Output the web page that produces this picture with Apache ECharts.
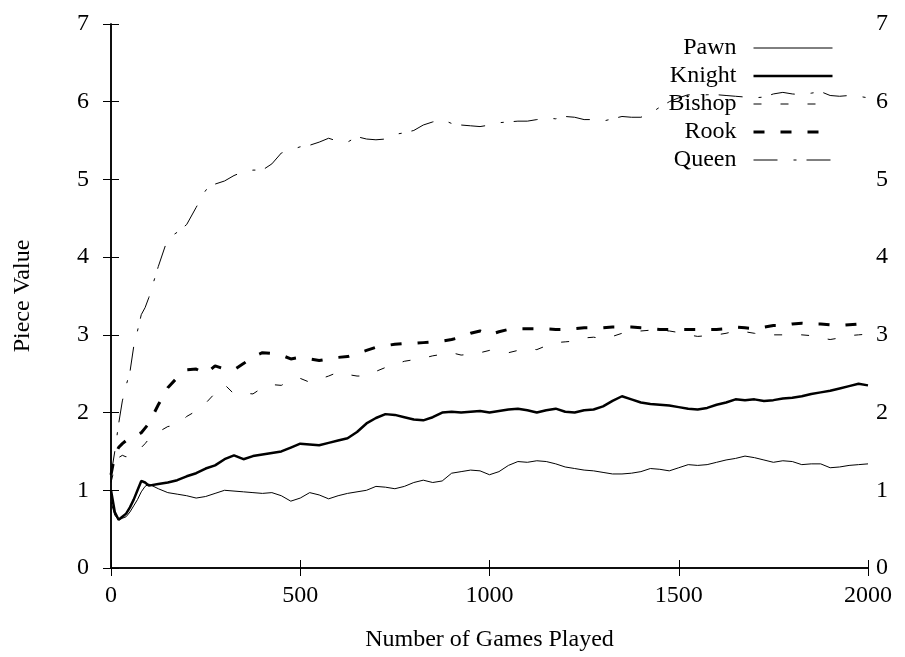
<!DOCTYPE html>
<html>
<head>
<meta charset="utf-8">
<script src="https://cdn.jsdelivr.net/npm/echarts@6/dist/echarts.min.js"></script>
<style>
  html, body { margin: 0; padding: 0; background: #fff; }
  #main { width: 905px; height: 657px; }
</style>
</head>
<body>
<div id="main"></div>
<script>
// games played (x)
var games = [
  0, 10, 20, 30, 40, 50, 60, 70, 80, 90, 100,
  125, 150, 175, 200, 225, 250, 275, 300,
  325, 350, 375, 400, 425, 450, 475, 500,
  525, 550, 575, 600, 625, 650, 675, 700,
  725, 750, 775, 800, 825, 850, 875, 900,
  925, 950, 975, 1000, 1025, 1050, 1075, 1100,
  1125, 1150, 1175, 1200, 1225, 1250, 1275, 1300,
  1325, 1350, 1375, 1400, 1425, 1450, 1475, 1500,
  1525, 1550, 1575, 1600, 1625, 1650, 1675, 1700,
  1725, 1750, 1775, 1800, 1825, 1850, 1875, 1900,
  1925, 1950, 1975, 2000
];

var pawn = [
  0.85, 0.68, 0.62, 0.64, 0.66, 0.72, 0.80, 0.88, 0.98, 1.05, 1.08,
  1.02, 0.97, 0.95, 0.93, 0.90, 0.92, 0.96, 1.00,
  0.99, 0.98, 0.97, 0.96, 0.97, 0.93, 0.86, 0.90,
  0.97, 0.94, 0.89, 0.93, 0.96, 0.98, 1.00, 1.05,
  1.04, 1.02, 1.05, 1.10, 1.13, 1.10, 1.12, 1.22,
  1.24, 1.26, 1.25, 1.20, 1.24, 1.32, 1.37, 1.36,
  1.38, 1.37, 1.34, 1.30, 1.28, 1.26, 1.25, 1.23,
  1.21, 1.21, 1.22, 1.24, 1.28, 1.27, 1.25, 1.29,
  1.33, 1.32, 1.33, 1.36, 1.39, 1.41, 1.44, 1.42,
  1.39, 1.36, 1.38, 1.37, 1.33, 1.34, 1.34, 1.29,
  1.30, 1.32, 1.33, 1.34
];

var knight = [
  1.00, 0.72, 0.62, 0.66, 0.70, 0.78, 0.88, 1.00, 1.12, 1.10, 1.06,
  1.08, 1.10, 1.13, 1.18, 1.22, 1.28, 1.32, 1.40,
  1.45, 1.40, 1.44, 1.46, 1.48, 1.50, 1.55, 1.60,
  1.59, 1.58, 1.61, 1.64, 1.67, 1.75, 1.86, 1.93,
  1.98, 1.97, 1.94, 1.91, 1.90, 1.94, 2.00, 2.01,
  2.00, 2.01, 2.02, 2.00, 2.02, 2.04, 2.05, 2.03,
  2.00, 2.03, 2.05, 2.01, 2.00, 2.03, 2.04, 2.08,
  2.15, 2.21, 2.17, 2.13, 2.11, 2.10, 2.09, 2.07,
  2.05, 2.04, 2.06, 2.10, 2.13, 2.17, 2.16, 2.17,
  2.15, 2.16, 2.18, 2.19, 2.21, 2.24, 2.26, 2.28,
  2.31, 2.34, 2.37, 2.35
];

var bishop = [
  1.10, 1.30, 1.42, 1.45, 1.43, 1.47, 1.50, 1.50, 1.55, 1.60, 1.66,
  1.75, 1.82, 1.84, 1.95, 2.02, 2.12, 2.25, 2.36,
  2.24, 2.25, 2.24, 2.32, 2.36, 2.35, 2.42, 2.44,
  2.39, 2.43, 2.47, 2.52, 2.49, 2.47, 2.47, 2.53,
  2.58, 2.62, 2.66, 2.68, 2.70, 2.73, 2.75, 2.77,
  2.74, 2.75, 2.77, 2.80, 2.79, 2.77, 2.80, 2.82,
  2.81, 2.86, 2.90, 2.91, 2.92, 2.96, 2.97, 2.95,
  2.98, 3.02, 3.04, 3.05, 3.06, 3.05, 3.05, 3.03,
  3.00, 2.98, 2.99, 3.00, 3.02, 3.05, 3.04, 3.02,
  3.00, 3.00, 3.00, 3.01, 3.00, 2.99, 2.96, 2.94,
  2.96, 2.99, 3.00, 3.01
];

var rook = [
  1.20, 1.45, 1.55, 1.60, 1.64, 1.67, 1.70, 1.72, 1.74, 1.80, 1.86,
  2.10, 2.32, 2.45, 2.55, 2.56, 2.50, 2.60, 2.56,
  2.55, 2.63, 2.72, 2.77, 2.76, 2.74, 2.69, 2.71,
  2.69, 2.67, 2.69, 2.71, 2.72, 2.76, 2.80, 2.84,
  2.86, 2.88, 2.89, 2.89, 2.90, 2.91, 2.92, 2.94,
  2.97, 3.02, 3.05, 3.00, 3.04, 3.07, 3.08, 3.08,
  3.08, 3.08, 3.07, 3.07, 3.08, 3.09, 3.09, 3.09,
  3.10, 3.10, 3.10, 3.09, 3.08, 3.07, 3.07, 3.07,
  3.07, 3.07, 3.07, 3.07, 3.08, 3.10, 3.09, 3.08,
  3.10, 3.12, 3.12, 3.14, 3.15, 3.14, 3.14, 3.13,
  3.12, 3.13, 3.14, 3.14
];

var queen = [
  1.20, 1.50, 1.85, 2.15, 2.35, 2.52, 2.85, 3.05, 3.26, 3.35, 3.48,
  3.88, 4.24, 4.32, 4.42, 4.64, 4.86, 4.94, 4.98,
  5.05, 5.10, 5.12, 5.12, 5.20, 5.34, 5.38, 5.42,
  5.44, 5.48, 5.53, 5.49, 5.48, 5.55, 5.52, 5.51,
  5.52, 5.58, 5.60, 5.63, 5.70, 5.74, 5.77, 5.72,
  5.70, 5.69, 5.68, 5.70, 5.73, 5.74, 5.75, 5.75,
  5.77, 5.79, 5.78, 5.81, 5.80, 5.77, 5.77, 5.75,
  5.78, 5.81, 5.80, 5.80, 5.85, 5.93, 6.00, 6.05,
  6.09, 6.08, 6.09, 6.09, 6.08, 6.07, 6.06, 6.05,
  6.06, 6.10, 6.12, 6.10, 6.09, 6.11, 6.13, 6.08,
  6.07, 6.08, 6.07, 6.05
];

var FONT = 'Liberation Serif';

function pairs(vals) {
  return games.map(function (g, i) { return [g, vals[i]]; });
}

function mkLine(name, vals, width, dash) {
  return {
    name: name,
    type: 'line',
    symbol: 'none',
    showSymbol: false,
    data: pairs(vals),
    lineStyle: { color: '#000', width: width, type: dash },
    itemStyle: { color: '#000' }
  };
}

// legend sample lines keep each series' own width
function legItem(name, width, dash) {
  return { name: name, lineStyle: { color: '#000', width: width, type: dash } };
}

var myChart = echarts.init(document.getElementById('main'), null, { renderer: 'canvas' });

var tick = { show: true, inside: true, length: 8, lineStyle: { color: '#000', width: 1 } };
var axLine = { show: true, lineStyle: { color: '#000', width: 1.5 } };
var lbl = { color: '#000', fontFamily: FONT, fontSize: 24 };

var option = {
  animation: false,
  backgroundColor: '#fff',
  grid: { left: 111, right: 37, top: 24, bottom: 85, containLabel: false },
  legend: {
    orient: 'vertical',
    align: 'right',
    right: 66,
    top: 31,
    itemWidth: 79,
    itemHeight: 14,
    itemGap: 4,
    itemStyle: { opacity: 0 },
    textStyle: { color: '#000', fontFamily: FONT, fontSize: 24, lineHeight: 24, padding: [0, 12, 0, 0] },
    data: [
      legItem('Pawn', 1, 'solid'),
      legItem('Knight', 2.5, 'solid'),
      legItem('Bishop', 1, [8, 19]),
      legItem('Rook', 3, [11, 16]),
      legItem('Queen', 1, [24, 16, 3, 10])
    ]
  },
  xAxis: [{
    type: 'value',
    min: 0, max: 2000, interval: 500,
    axisLine: axLine,
    axisTick: tick,
    axisLabel: Object.assign({ margin: 16, formatter: function (v) { return String(v); } }, lbl),
    splitLine: { show: false },
    name: 'Number of Games Played',
    nameLocation: 'middle',
    nameGap: 60,
    nameTextStyle: lbl
  }, {
    type: 'value',
    position: 'top',
    min: 0, max: 2000, interval: 500,
    axisLine: axLine,
    axisTick: tick,
    axisLabel: { show: false },
    splitLine: { show: false }
  }],
  yAxis: [{
    type: 'value',
    min: 0, max: 7, interval: 1,
    axisLine: axLine,
    axisTick: tick,
    axisLabel: Object.assign({ margin: 22 }, lbl),
    splitLine: { show: false },
    name: 'Piece Value',
    nameLocation: 'middle',
    nameGap: 76,
    nameTextStyle: lbl
  }, {
    type: 'value',
    position: 'right',
    min: 0, max: 7, interval: 1,
    axisLine: axLine,
    axisTick: tick,
    axisLabel: Object.assign({ margin: 8 }, lbl),
    splitLine: { show: false }
  }],
  series: [
    mkLine('Pawn', pawn, 1, 'solid'),
    mkLine('Knight', knight, 2.5, 'solid'),
    mkLine('Bishop', bishop, 1, [8, 19]),
    mkLine('Rook', rook, 3, [11, 16]),
    mkLine('Queen', queen, 1, [24, 16, 3, 10])
  ]
};

myChart.setOption(option);
</script>
</body>
</html>
